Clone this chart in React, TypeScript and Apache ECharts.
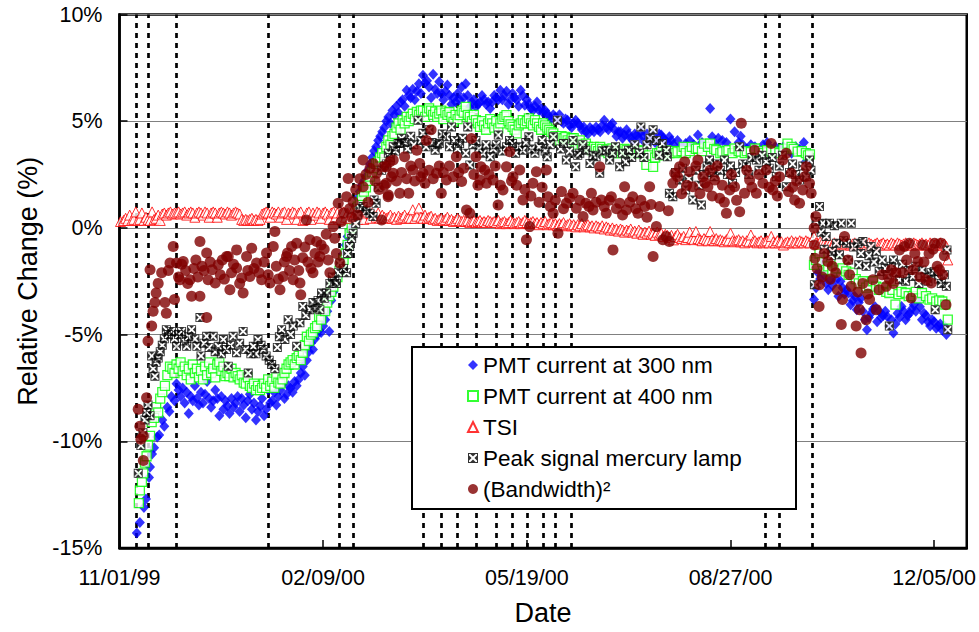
import React, { useEffect, useRef } from 'react';
import * as echarts from 'echarts';

const FONT = '"Liberation Sans", Arial, Helvetica, sans-serif';

// x axis: days since 11/01/99
const xTickDays = [0, 100, 200, 300, 400];
const xTickLabels = ['11/01/99', '02/09/00', '05/19/00', '08/27/00', '12/05/00'];
const eventDays = [8, 14, 28, 73, 108, 115, 149, 158, 166, 175, 185, 193, 200, 208, 214, 222, 317, 324, 340];
const seriesNames = ['PMT current at 300 nm', 'PMT current at 400 nm', 'TSI', 'Peak signal mercury lamp', '(Bandwidth)²'];

const pmt300 = [
[8.5,-14.3],[10,-13.8],[12,-13.1],[13,-12.7],[14.5,-11.7],[15,-11.2],[16,-10.6],[17,-10.3],[18.5,-9.8],[19.5,-9.7],[21,-9.0],[22,-9.3],[23.5,-8.4],[24.5,-8.6],[25.5,-7.9],[27,-8.1],[28,-7.3],[29,-7.6],[30,-7.9],[31,-7.5],[32,-8.2],[33,-7.7],[34,-8.7],[35,-7.9],[36,-8.1],[37,-7.4],[38,-8.0],[39,-8.3],[40,-7.7],[41,-8.2],[42,-7.8],[43,-7.2],[44,-8.0],[45,-8.4],[46,-8.1],[47,-7.6],[48,-8.0],[49,-8.8],[50,-7.9],[51,-8.5],[52,-8.1],[53,-8.35],[54,-8.7],[55,-8.0],[56,-8.4],[57,-8.2],[58,-7.9],[59,-8.6],[60,-8.0],[61,-8.3],[62,-8.9],[63,-8.1],[64,-7.8],[65,-8.5],[66,-8.2],[67,-9.0],[68,-8.6],[69,-8.35],[70,-8.0],[71,-8.8],[72,-8.5],[73,-7.6],[74,-8.2],[75,-8.1],[76,-7.7],[77,-8.3],[78,-7.9],[79,-7.6],[80,-7.3],[81,-8.0],[82,-7.8],[83,-7.4],[84,-7.5],[85,-7.7],[86,-7.2],[87,-7.4],[88,-7.1],[89,-6.8],[90,-6.5],[91,-6.9],[92,-6.2],[93,-5.8],[94,-5.4],[95,-5.7],[96,-5.2],[97,-5.0],[98,-4.8],[99,-4.9],[100,-4.6],[101,-4.3],[102,-3.9],[103,-4.85],[104,-3.4],[105,-3.0],[106,-2.6],[107,-2.3],[108,-2.0],[109,-1.6],[110,-1.2],[111,-0.8],[112,-0.4],[113,-0.1],[114,0.3],[115,0.7],[116,1.0],[117,1.4],[118,1.7],[119,2.0],[120,2.2],[121,2.4],[122,2.7],[123,3.0],[124,3.3],[125,3.6],[126,3.8],[127,4.1],[128,4.3],[129,4.5],[130,4.7],[131,5.0],[132,5.2],[133,4.9],[134,5.5],[135,5.3],[136,5.7],[137,5.4],[138,5.9],[139,6.0],[140,5.7],[141,6.45],[142,6.2],[143,6.1],[144,6.5],[145,6.0],[146,6.4],[147,6.76],[148,6.3],[149,7.15],[150,6.8],[151,6.9],[152,6.6],[153,6.1],[154,7.2],[155,6.5],[156,6.3],[157,6.85],[158,6.3],[159,6.0],[160,6.4],[161,6.7],[162,6.2],[163,5.8],[164,6.1],[165,5.9],[166,6.3],[167,6.0],[168,6.6],[169,6.1],[170,6.76],[171,6.2],[172,5.67],[173,5.9],[174,6.0],[175,5.67],[176,5.8],[177,5.9],[178,6.2],[179,6.0],[180,5.8],[181,5.9],[182,5.6],[183,5.9],[184,6.2],[185,6.1],[186,6.0],[187,6.45],[188,6.0],[189,6.2],[190,6.4],[191,5.8],[192,6.0],[193,6.3],[194,6.1],[195,6.0],[196,5.7],[197,6.45],[198,6.2],[199,5.75],[200,6.0],[201,5.8],[202,5.6],[203,5.5],[204,5.7],[205,5.9],[206,5.5],[207,5.6],[208,5.4],[209,5.5],[210,5.36],[211,5.2],[212,5.1],[213,5.3],[214,5.2],[215,5.1],[216,5.3],[217,5.0],[218,4.9],[219,5.1],[220,5.05],[221,4.8],[222,4.7],[223,4.9],[224,5.05],[225,4.9],[226,4.8],[227,4.6],[228,4.73],[229,4.5],[230,4.4],[231,4.7],[232,4.6],[233,4.5],[234,4.73],[235,4.6],[236,4.5],[237,4.8],[238,5.05],[239,4.7],[240,4.6],[241,4.8],[242,4.9],[243,4.6],[244,4.3],[245,4.5],[246,4.5],[247,4.2],[248,4.35],[249,4.6],[250,4.4],[251,4.2],[252,4.1],[253,4.4],[254,4.35],[255,4.2],[256,4.5],[257,4.3],[258,4.0],[259,4.4],[260,4.2],[261,4.1],[262,4.35],[263,4.0],[264,4.1],[265,4.4],[266,4.35],[267,4.2],[268,4.1],[269,4.0],[270,4.27],[271,4.1],[272,3.9],[274,4.1],[276,3.8],[278,3.95],[280,4.1],[282,3.9],[284,4.35],[286,4.0],[288,3.8],[290,5.6],[291,4.27],[293,3.9],[294,4.2],[296,4.1],[298,4.0],[300,5.1],[302,4.5],[304,4.0],[305,4.3],[306,3.9],[308,3.7],[310,3.9],[312,3.8],[314,3.6],[316,3.9],[318,4.0],[320,3.7],[322,3.8],[324,3.6],[326,3.8],[328,3.7],[330,3.5],[332,3.8],[334,3.7],[336,4.0],[337,3.1],[338,3.5],
[341,-3.36],[342,-2.8],[343,-2.1],[344,-2.4],[345,-1.5],[346,-2.2],[347,-2.6],[348,-2.9],[349,-2.43],[350,-2.7],[351,-2.0],[352,-2.43],[353,-3.2],[354,-2.5],[355,-2.8],[356,-3.1],[357,-2.9],[358,-3.05],[359,-3.6],[360,-3.4],[361,-3.2],[362,-3.83],[363,-3.5],[364,-3.3],[365,-3.9],[366,-4.3],[367,-4.77],[368,-4.2],[369,-4.0],[370,-3.8],[371,-3.7],[372,-4.4],[373,-3.9],[374,-4.2],[375,-4.1],[376,-3.9],[377,-4.15],[378,-4.6],[379,-4.3],[380,-4.92],[381,-4.5],[382,-4.0],[383,-4.2],[384,-3.68],[385,-3.9],[386,-4.3],[387,-4.1],[388,-4.0],[389,-3.8],[390,-3.6],[391,-3.9],[392,-3.36],[393,-3.7],[394,-4.3],[395,-4.0],[396,-4.1],[397,-4.4],[398,-4.6],[399,-4.3],[400,-4.4],[401,-4.7],[402,-4.6],[403,-4.5],[404,-4.8],[405,-4.6],[406,-5.0]
];

const pmt400 = [
[9.5,-12.9],[10,-12.3],[11,-11.9],[11.7,-11.5],[12.5,-11.0],[13.3,-10.7],[14,-10.2],[15,-9.75],[15.8,-9.1],[17,-8.9],[18,-8.4],[19,-8.65],[20,-8.0],[21,-7.7],[22.3,-7.4],[23.5,-6.9],[24.8,-6.5],[26,-6.6],[27,-6.8],[28,-6.4],[29,-6.6],[30,-6.3],[31,-6.7],[32,-6.5],[33,-6.9],[34,-6.6],[35,-7.1],[36,-6.4],[37,-6.8],[38,-6.6],[39,-7.0],[40,-6.7],[41,-7.1],[42,-6.5],[43,-6.9],[44,-6.3],[45,-6.8],[46,-6.6],[47,-7.0],[48,-6.4],[49,-6.3],[50,-6.7],[51,-6.5],[52,-6.95],[53,-6.8],[54,-6.95],[55,-6.6],[56,-7.0],[57,-6.8],[58,-6.95],[59,-7.1],[60,-6.9],[61,-7.25],[62,-7.3],[63,-7.0],[64,-7.4],[65,-7.5],[66,-7.3],[67,-7.6],[68,-7.4],[69,-7.6],[70,-7.5],[71,-7.3],[72,-7.5],[73,-7.1],[74,-7.4],[75,-7.2],[76,-7.5],[77,-7.0],[78,-7.25],[79,-7.3],[80,-7.1],[81,-6.8],[82,-6.6],[83,-6.4],[84,-6.3],[85,-6.2],[86,-6.4],[87,-6.1],[88,-6.0],[89,-6.2],[90,-5.85],[91,-5.5],[92,-5.1],[93,-5.3],[94,-5.0],[95,-4.9],[96,-4.7],[97,-4.6],[98,-4.15],[99,-4.3],[100,-3.8],[101,-3.9],[102,-3.5],[103,-3.2],[104,-3.0],[105,-2.75],[106,-2.5],[107,-2.3],[108,-2.0],[109,-1.65],[110,-1.5],[111,-1.2],[112,-0.8],[113,-0.25],[114,0.0],[115,0.4],[116,0.7],[117,1.0],[118,1.2],[119,1.5],[120,1.7],[121,1.9],[122,2.2],[123,2.4],[124,2.6],[125,2.8],[126,3.0],[127,3.1],[128,3.3],[129,3.5],[130,3.3],[131,3.8],[132,4.1],[133,3.9],[134,4.3],[135,4.4],[136,4.7],[137,4.9],[138,4.6],[139,5.05],[140,4.9],[141,5.2],[142,5.0],[143,5.2],[144,5.35],[145,5.1],[146,5.43],[147,5.3],[148,5.5],[149,5.5],[150,5.2],[151,5.45],[152,5.6],[153,5.5],[154,5.3],[155,5.45],[156,5.2],[157,5.36],[158,5.5],[159,5.1],[160,5.4],[161,5.3],[162,5.43],[163,5.2],[164,4.97],[165,5.3],[166,5.1],[167,5.28],[168,5.5],[169,5.4],[170,5.67],[171,5.3],[172,5.2],[173,5.0],[174,5.3],[175,5.05],[176,4.9],[177,4.73],[178,5.0],[179,4.8],[180,4.6],[181,4.9],[182,5.1],[183,4.9],[184,4.7],[185,5.0],[186,4.66],[187,4.9],[188,5.1],[189,5.2],[190,5.28],[191,5.0],[192,4.85],[193,4.73],[194,4.6],[195,4.43],[196,4.8],[197,4.9],[198,5.05],[199,4.9],[200,5.0],[201,5.13],[202,4.9],[203,4.8],[204,5.05],[205,4.9],[206,4.73],[207,4.6],[208,4.9],[209,4.8],[210,4.7],[211,4.6],[212,4.5],[213,4.43],[214,4.3],[215,4.2],[216,4.1],[217,4.3],[218,4.2],[219,4.27],[220,4.1],[221,4.0],[222,4.2],[223,4.2],[224,4.0],[225,3.9],[226,4.1],[227,3.9],[228,3.8],[229,3.95],[230,3.8],[231,3.7],[232,3.64],[233,3.8],[234,3.7],[235,3.6],[236,3.8],[237,3.7],[238,3.6],[239,3.64],[240,3.5],[241,3.6],[242,3.72],[243,3.6],[244,3.5],[245,3.5],[246,3.6],[247,3.55],[248,3.7],[249,3.64],[250,3.5],[251,3.6],[252,3.57],[253,3.5],[254,3.6],[255,3.5],[256,3.64],[257,3.6],[258.7,2.95],[260,3.4],[262,2.86],[263,3.3],[264,3.5],[265,3.5],[266,3.6],[267,3.4],[268.5,3.64],[270,3.5],[271,3.6],[273,3.5],[274,3.57],[276,3.6],[277,3.8],[278,3.5],[280,3.6],[281,3.8],[283,3.7],[284,3.72],[286,3.6],[287,3.95],[289,3.8],[290,3.95],[292,3.7],[293,3.64],[295,3.5],[296,3.57],[298,3.6],[299,3.64],[301,3.5],[302,3.72],[304,3.6],[305,3.57],[307,3.5],[308,3.6],[310,3.55],[312,3.72],[314,3.6],[316,3.5],[318,3.64],[320,3.6],[322,3.57],[324,3.5],[326,3.7],[328,3.95],[330,3.8],[331,3.7],[333,3.57],[335,3.6],[337,3.5],[338,3.4],[339,3.45],
[341,-1.73],[342,-1.5],[343.7,-1.2],[345,-1.6],[347,-1.97],[348,-1.8],[350,-2.04],[352,-1.9],[353.5,-1.57],[355,-1.9],[356.8,-2.04],[358,-2.2],[360,-2.1],[361.5,-2.4],[363,-2.6],[365,-2.5],[366.6,-2.8],[368,-2.7],[370,-2.5],[371.5,-2.75],[373,-2.9],[375,-2.8],[376.5,-3.0],[378,-3.05],[379.5,-2.9],[381,-3.6],[382.5,-3.1],[384,-3.0],[386,-3.05],[387.5,-3.2],[389.5,-3.2],[391,-3.0],[392.5,-3.3],[394,-3.05],[396,-3.2],[397.7,-3.36],[399,-3.3],[401,-3.45],[402.5,-3.4],[404,-3.45],[405.5,-3.6],[406.7,-4.3]
];

const tsi = [
[0.5,0.3],[2,0.35],[3,0.45],[4,0.35],[5,0.6],[6,0.35],[7,0.4],[8,0.75],[9,0.35],[10,0.4],[11,0.7],[12,0.35],[13,0.5],[14,0.4],[15,0.35],[16,0.75],[17,0.4],[18,0.45],[19,0.6],[20,0.35],[21,0.65],[22,0.7],[23,0.6],[24,0.7],[25,0.75],[26,0.65],[27,0.7],[28,0.7],[29,0.75],[30,0.65],[31,0.7],[32,0.75],[33,0.6],[34,0.7],[35,0.75],[36,0.7],[37,0.5],[38,0.7],[39,0.75],[40,0.7],[41,0.6],[42,0.75],[43,0.7],[44,0.5],[45,0.7],[46,0.75],[47,0.7],[48,0.5],[49,0.7],[50,0.75],[51,0.7],[52,0.65],[53,0.75],[54,0.7],[55,0.6],[56,0.7],[57,0.75],[58,0.7],[59,0.65],[60,0.4],[61,0.35],[62,0.4],[63,0.35],[64,0.4],[65,0.45],[66,0.35],[67,0.4],[68,0.35],[69,0.4],[70,0.65],[71,0.7],[72,0.75],[73,0.7],[74,0.5],[75,0.75],[76,0.7],[77,0.65],[78,0.75],[79,0.5],[80,0.7],[81,0.75],[82,0.4],[83,0.7],[84,0.65],[85,0.75],[86,0.7],[87,0.4],[88,0.7],[89,0.75],[90,0.35],[91,0.4],[92,0.7],[93,0.75],[94,0.4],[95,0.7],[96,0.6],[97,0.75],[98,0.7],[99,0.45],[100,0.7],[101,0.75],[102,0.65],[103,0.4],[104,0.7],[105,0.75],[106,0.5],[107,0.7],[108,0.4],[109,0.7],[110,0.75],[111,0.5],[112,0.7],[113,0.45],[114,0.75],[115,0.6],[116,0.7],[117,0.4],[118,0.7],[119,0.65],[120,0.4],[121,0.7],[122,0.75],[123,0.45],[124,0.7],[125,0.6],[126,0.5],[127,0.7],[128,0.45],[129,0.6],[130,0.5],[131,0.45],[132,0.5],[133,0.6],[134,0.45],[135,0.5],[136,0.4],[137,0.55],[138,0.45],[139,0.5],[140,0.6],[141,0.45],[142,0.5],[143,0.45],[144,0.85],[145,0.45],[146,0.55],[147,0.93],[148,0.5],[149,0.45],
[150,0.6],[151,0.45],[152,0.5],[153,0.55],[154,0.4],[155,0.45],[156,0.35],[157,0.4],[158,0.45],[159,0.35],[160,0.4],[161,0.5],[162,0.35],[163,0.4],[164,0.3],[165,0.35],[166,0.45],[167,0.35],[168,0.3],[169,0.35],[170,0.3],[171,0.35],[172,0.25],[173,0.3],[174,0.35],[175,0.25],[176,0.3],[177,0.35],[178,0.25],[179,0.3],[180,0.25],[181,0.35],[182,0.3],[183,0.25],[184,0.3],[185,0.25],[186,0.35],[187,0.2],[188,0.25],[189,0.3],[190,0.2],[191,0.25],[192,0.35],[193,0.25],[194,0.2],[195,0.25],[196,0.3],[197,0.2],[198,0.25],[199,0.35],[200,0.25],[201,0.2],[202,0.25],[203,0.3],[204,0.2],[205,0.25],[206,0.15],[207,0.25],[208,0.2],[209,0.3],[210,0.15],[211,0.2],[212,0.25],[213,0.15],[214,0.2],[215,0.1],[216,0.2],[217,0.15],[218,0.25],[219,0.1],[220,0.15],[221,0.2],[222,0.1],[223,0.15],[224,0.05],[225,0.15],[226,0.1],[227,0.2],[228,0.05],[229,0.1],[230,0.15],[231,0.05],[232,0.1],[233,0.0],[234,0.1],[235,0.05],[236,0.0],[237,0.1],[238,-0.05],[239,0.05],[240,0.0],[241,-0.1],[242,0.0],[243,-0.1],[244,-0.05],[245,-0.15],[246,-0.05],[247,-0.1],[248,-0.2],[249,-0.1],[250,-0.15],[251,-0.05],[252,-0.2],[253,-0.15],[254,-0.25],[255,-0.1],[256,-0.2],[257,-0.3],[258,-0.2],[259,-0.25],[260,-0.15],[261,-0.3],[262,-0.25],[263,-0.35],[264,-0.2],[265,-0.3],[266,-0.25],[267,-0.4],[268,-0.3],[269,-0.35],[270,-0.45],[271,-0.35],[272,-0.56],[273,-0.4],[274,-0.3],[275,-0.45],[276,-0.5],[277,-0.4],[278,-0.55],[279,-0.45],[280,-0.2],[281,-0.5],[282,-0.55],[283,-0.17],[284,-0.5],[285,-0.55],[286,-0.6],[287,-0.5],[288,-0.55],[289,-0.6],[290,-0.17],[291,-0.55],[292,-0.6],[293,-0.5],[294,-0.6],[295,-0.55],[296,-0.6],[297,-0.65],[298,-0.55],[299,-0.6],[300,-0.25],[301,-0.6],[302,-0.65],[303,-0.6],[304,-0.55],[305,-0.65],[306,-0.6],[307,-0.7],[308,-0.6],[309,-0.65],[310,-0.33],[311,-0.65],[312,-0.6],[313,-0.7],[314,-0.65],[315,-0.6],[316,-0.7],[317,-0.65],[318,-0.6],[319,-0.7],[320,-0.4],[321,-0.65],[322,-0.7],[323,-0.6],[324,-0.7],[325,-0.65],[326,-0.8],[327,-0.7],[328,-0.65],[329,-0.7],[330,-0.6],[331,-0.7],[332,-0.65],[333,-0.7],[334,-0.6],[335,-0.65],[336,-0.7],[337,-0.6],[338,-0.65],[339,-0.7],
[341,-0.4],[342,-0.7],[343,-0.75],[344,-0.65],[345,-0.7],[346,-0.75],[347,-0.8],[348,-0.7],[349,-0.75],[350,-0.8],[351,-0.7],[352,-0.75],[353,-0.8],[354,-0.75],[355,-0.7],[356,-0.8],[357,-0.75],[358,-0.7],[359,-0.8],[360,-0.75],[361,-0.7],[362,-0.8],[363,-0.75],[364,-0.8],[365,-0.7],[366,-0.75],[367,-0.8],[368,-0.7],[369,-0.75],[370,-0.8],[371,-0.75],[372,-0.7],[373,-0.8],[374,-0.75],[375,-0.7],[376,-0.8],[377,-0.75],[378,-0.8],[379,-0.7],[380,-0.75],[381,-0.8],[382,-0.7],[383,-0.75],[384,-0.8],[385,-0.75],[386,-0.7],[387,-0.8],[388,-0.75],[389,-0.8],[390,-0.7],[391,-0.75],[392,-0.8],[393,-0.75],[394,-0.7],[395,-0.8],[396,-0.75],[397,-0.8],[398,-0.7],[399,-0.75],[400,-0.8],[401,-0.75],[402,-0.8],[403,-0.7],[404,-0.8],[405,-0.75],[406,-0.87],[406.7,-1.5]
];

const peak = [
[9.2,-11.5],[10.5,-10.2],[11.5,-9.6],[12.5,-9.0],[13.3,-8.65],[14,-8.3],[15,-8.8],[15.8,-6.0],[16.5,-6.6],[17.4,-6.95],[18,-6.3],[19,-6.1],[20,-5.8],[21,-5.5],[22,-5.2],[23,-4.77],[24,-5.0],[25.6,-4.85],[27,-5.2],[28,-5.55],[29,-5.0],[30.5,-4.85],[32,-5.3],[33,-5.55],[34,-5.1],[35.4,-4.77],[37,-5.2],[38,-5.55],[39.5,-4.2],[40,-6.0],[41.5,-5.4],[42.8,-5.08],[44,-5.6],[46,-5.08],[47,-5.8],[48.5,-5.55],[50,-5.9],[51,-5.23],[52.5,-5.7],[53.4,-6.48],[54.5,-5.5],[55.8,-5.08],[57.5,-5.85],[59,-5.4],[60.7,-4.85],[62,-5.7],[63.2,-6.8],[64.5,-5.9],[65.7,-5.55],[67,-5.9],[68,-5.23],[69.5,-5.5],[70.6,-5.7],[72,-6.0],[73.5,-6.2],[74.7,-6.4],[76.3,-6.6],[77.5,-5.6],[78.5,-5.1],[79.6,-4.77],[81.2,-5.23],[82.8,-4.3],[84,-5.0],[85.3,-4.6],[87,-5.55],[88.6,-4.45],[90,-3.68],[91.5,-4.1],[93.5,-3.83],[95,-3.5],[96,-3.75],[97.5,-3.4],[98.4,-3.83],[99.2,-3.05],[100.5,-3.3],[101.7,-3.05],[103.3,-2.6],[104.5,-2.3],[105.7,-2.5],[106.5,-2.6],[107.4,-2.1],[108.2,-1.65],[110,-1.9],[111.5,-2.1],[112,-1.2],[113,-0.87],[114,-0.5],[114.7,-0.25],[116,0.2],[117,0.6],[118,0.92],[119.6,1.0],[121,0.8],[123,0.69],[124.5,0.53],[125,1.31],[126,1.15],[127,1.9],[128.7,2.7],[130,2.9],[131,3.0],[132,3.5],[133,3.3],[134.4,3.8],[135.5,3.6],[136.8,3.95],[137.6,3.95],[138.5,4.2],[140,4.0],[141.5,3.7],[143,4.3],[144.5,3.9],[146.6,5.05],[148,4.1],[149,4.43],[150.5,3.8],[152,4.6],[153.5,4.0],[155,3.64],[156,3.9],[157,3.95],[158.5,4.4],[160.5,4.27],[162,3.8],[163,4.73],[164.5,4.1],[166,3.7],[167,3.95],[168.5,4.2],[170,3.5],[171,4.73],[172,2.95],[173.5,3.9],[175,4.1],[176.5,3.7],[178.5,3.5],[180,3.9],[182,3.33],[183.5,3.7],[185,3.9],[186,4.35],[188,3.6],[190,3.8],[191.5,4.1],[193,3.95],[194.5,3.5],[196,3.8],[198,3.64],[199.5,4.0],[201,4.27],[202.5,3.7],[204,3.5],[206,3.8],[207.5,4.1],[209,3.6],[210,3.33],[211.5,3.9],[213,4.27],[215,5.05],[216.5,3.7],[218,3.95],[219.4,3.18],[221,3.6],[222.7,4.1],[224,2.86],[225,3.4],[226,3.5],[227.5,3.9],[229,3.64],[231,3.02],[232.5,3.4],[234,3.33],[235.8,2.56],[237,3.6],[239,3.64],[240.7,3.18],[242,3.5],[243.5,3.8],[245.6,2.86],[247,3.5],[248.5,3.1],[250,3.64],[251.5,3.3],[253,3.9],[255.4,3.5],[256,4.73],[257.5,3.3],[259,3.9],[260.5,4.2],[262,4.6],[263.6,4.1],[265,3.41],[266.5,3.95],[268.5,3.64],[269,3.33],[270,1.62],[271.7,1.46],[273,2.6],[275,2.24],[276.5,2.8],[278,1.78],[279.5,2.3],[281.5,1.31],[283,2.7],[284.5,2.0],[285.7,1.07],[287,2.5],[288.5,2.9],[289.7,3.18],[291,2.6],[292,2.4],[293.5,3.0],[295,2.7],[297,3.18],[298.5,2.5],[300,2.9],[301,2.09],[302.5,2.6],[304.5,3.8],[306,3.0],[307.8,2.86],[309,2.5],[310.5,3.3],[312.7,3.18],[314,2.7],[315.5,3.4],[317.6,3.1],[319,2.8],[320.5,3.3],[322.5,2.4],[324,2.9],[325.5,3.4],[327.4,1.93],[329,2.6],[330.5,3.0],[332,2.5],[333.9,2.24],[335.5,2.9],[337.2,2.4],[338.8,3.18],[339.5,2.7],
[341.2,-2.66],[342,0.3],[343.7,1.0],[344.5,-0.2],[345.3,0.22],[346,-1.0],[347,-0.4],[348.6,0.22],[349.5,-1.3],[350,-1.1],[351,0.1],[352,-0.72],[353.5,-1.26],[354.4,0.22],[355.5,-0.6],[357,-0.72],[358,-1.5],[359.3,0.22],[360.5,-0.9],[362.5,-0.72],[363,-1.73],[364,-1.2],[365,-0.64],[366.6,-1.8],[368,-1.3],[369,-0.87],[370.5,-1.6],[371.6,-1.1],[373,-2.04],[374.5,-1.5],[376,-1.9],[377,-2.2],[378,-4.6],[379,-1.8],[380,-1.5],[381.5,-2.1],[383,-2.43],[384.5,-1.7],[386,-2.5],[387.5,-2.0],[389.5,-2.28],[391,-1.8],[392.5,-2.6],[394,-1.97],[395.5,-2.3],[397,-2.5],[398.5,-2.1],[400,-2.04],[400.5,-3.83],[402,-2.4],[403.5,-2.6],[405,-2.2],[406,-2.74],[406.3,-1.03],[406.7,-4.77]
];

const bandwidth = [
[9.2,-8.5],[10,-9.3],[10.5,-9.9],[11.7,-10.9],[11.7,-9.75],[13.3,-7.96],[14,-5.3],[15,-1.96],[15.8,-4.6],[16.5,-3.9],[17.4,-3.5],[18,-3.05],[19,-2.6],[20.7,-2.1],[22.3,-3.5],[23,-4.0],[24,-2.0],[24.8,-1.65],[26.4,-0.87],[27,-3.36],[28,-1.65],[29,-2.3],[29.7,-2.43],[30.5,-1.7],[31.3,-1.57],[32.5,-2.0],[33.5,-2.6],[34.6,-2.43],[35.4,-3.2],[36.5,-1.9],[37.5,-1.5],[38.5,-2.3],[39.5,-0.64],[39.5,-3.2],[40.5,-1.8],[41.5,-2.0],[42.8,-1.18],[42.8,-4.2],[43.5,-2.43],[44.5,-1.6],[45.5,-1.96],[47,-2.58],[48.5,-1.73],[49.5,-2.2],[50.5,-1.5],[51.5,-2.4],[52.6,-1.34],[53.4,-1.34],[54.2,-2.9],[55,-2.1],[56,-1.7],[57.5,-1.88],[57.5,-1.03],[59,-2.6],[60,-2.35],[60.7,-3.05],[62.4,-1.34],[63,-2.0],[64,-2.28],[64.9,-0.95],[66,-1.9],[67.3,-1.65],[68.5,-2.1],[69.8,-2.43],[71,-1.6],[72.2,-1.18],[73,-2.2],[73.9,-2.58],[75.5,-0.87],[76.3,-0.17],[77,-1.8],[78,-2.4],[78.8,-2.9],[80.4,-2.28],[81,-1.6],[82,-1.34],[82.5,-1.18],[83.5,-2.0],[84.5,-0.87],[85.3,-2.43],[86,-1.5],[87,-0.72],[88,-2.0],[88.6,-2.58],[89,-3.13],[90,-1.4],[91,-0.9],[91.8,0.37],[92.5,-1.6],[93.5,-0.56],[94,-1.9],[95,-2.1],[96,-1.2],[96.8,-0.64],[97.5,-1.6],[98.4,-1.34],[99,-0.8],[100.5,-1.0],[101.5,-0.3],[102.5,-1.5],[103.3,-2.1],[104.9,0.06],[105.7,-0.48],[106.5,-1.2],[107.4,1.15],[108.2,-1.65],[109,0.3],[110,0.7],[111.5,1.46],[112.3,2.32],[113,0.9],[114,0.5],[114.7,1.23],[116,1.8],[117,0.6],[118,2.3],[119.6,3.18],[119.6,1.93],[121,2.5],[122,1.2],[123,2.8],[124.5,3.02],[125.5,2.2],[126.2,2.56],[127.5,1.8],[128.7,0.37],[129.5,2.86],[130,2.0],[131,2.86],[131,2.09],[131.9,1.46],[132,1.54],[132.7,3.1],[133.5,2.4],[134.4,2.56],[134.4,3.18],[136,2.2],[137.6,1.62],[138.5,2.6],[140,3.33],[141,2.3],[142,1.62],[143,2.9],[144,2.71],[145,2.2],[146,3.64],[147.4,3.02],[148,2.4],[149,2.56],[150,2.09],[150.7,4.1],[152,2.7],[153,4.6],[154,2.3],[155.6,2.56],[157,2.9],[158,1.62],[159,2.6],[160.5,2.24],[162,2.9],[163.8,2.4],[165.4,3.33],[166.5,2.6],[168,2.17],[169,2.8],[170.4,0.84],[172,0.69],[172.8,4.19],[174,2.5],[175,3.33],[176,2.0],[177,2.24],[177.5,2.86],[179.3,2.71],[180.2,2.09],[181.5,2.5],[183.4,2.24],[184.5,2.9],[185.9,1.07],[187,2.0],[188.3,1.78],[190,2.86],[191.6,3.57],[192.5,2.2],[193.2,2.4],[195,2.0],[196.5,2.71],[198.1,1.31],[199,1.8],[199.8,-0.56],[201.4,0.06],[202,1.5],[203,2.09],[204.7,2.63],[206,1.2],[207.5,1.9],[209.6,2.71],[210.4,1.46],[211.5,1.0],[212.9,0.69],[214,1.3],[215.3,-0.25],[217,1.7],[218,0.9],[219.4,1.15],[221,1.4],[222.7,1.62],[224.3,0.92],[226,1.3],[227.6,0.53],[229,1.15],[230.5,1.0],[231.7,1.62],[232.5,0.84],[234,1.2],[235.8,2.86],[236.6,1.31],[238,1.0],[239,0.69],[240.5,1.3],[241.5,1.46],[242.3,-1.03],[244,0.9],[245.6,1.15],[247,0.6],[248,1.93],[248.9,0.84],[250.5,1.2],[252,1.46],[253.5,0.9],[254.6,0.69],[256,1.3],[257.9,1.0],[259,0.5],[260.3,1.93],[261,1.1],[262,-1.34],[263.6,0.06],[265.2,1.0],[266.8,-0.56],[268.5,-0.4],[269.5,0.8],[270,-0.64],[271.7,2.09],[272.6,2.56],[274,2.4],[275,2.86],[276,1.6],[277.5,3.1],[278.5,2.0],[279.9,2.63],[281.5,1.93],[283,2.9],[284,3.18],[285,1.6],[286.5,2.4],[287.5,2.1],[288.9,1.93],[290,2.7],[291,1.5],[292.3,2.24],[293.5,2.9],[294.7,1.39],[296,2.0],[297,1.2],[298,0.69],[299.6,1.78],[300.5,2.5],[302,1.93],[303,1.3],[304.5,0.76],[305.3,4.9],[306.9,1.62],[308,2.7],[309.4,2.24],[310.5,1.9],[311.8,3.64],[312.7,1.62],[314,2.5],[315.9,2.09],[317.6,2.71],[319,1.9],[320,3.95],[320.8,1.78],[322,2.2],[323,1.5],[324.1,2.4],[325.7,3.18],[327.4,3.5],[328.5,1.7],[329.8,2.56],[330.5,1.9],[331.5,1.31],[332.5,2.2],[333.9,1.15],[335.5,1.78],[336.5,2.4],[337.2,2.86],[338.8,2.09],[339.6,1.62],
[341.1,-0.01],[341.2,-0.8],[341.4,-1.42],[341.9,0.53],[342.5,-1.9],[343.5,-3.68],[343.7,-2.66],[345,-2.3],[346,-1.2],[347.8,-1.57],[349,-2.4],[350,-1.8],[351.7,-2.1],[352.5,-2.9],[354.4,-4.53],[355,-3.36],[356,-0.4],[357.6,-1.5],[358.5,-2.2],[359.3,-2.74],[361.7,-4.6],[362.5,-3.0],[363.3,-3.83],[364.1,-5.86],[365,-2.6],[366.6,-4.3],[367.5,-3.1],[368.3,-3.36],[369.9,-2.43],[371.6,-3.83],[373,-2.9],[374.5,-2.2],[376.5,-2.74],[378,-2.4],[379,-1.96],[380,-2.6],[381.3,-2.1],[383,-1.03],[384.6,-2.1],[385.4,-0.87],[386.5,-1.5],[387.8,-0.72],[388.7,-3.29],[389.5,-1.96],[390.5,-1.2],[392,-1.57],[393,-2.3],[394.4,-0.8],[395,-1.6],[396,-2.43],[397.5,-1.2],[398.6,-2.58],[399.5,-1.0],[400.2,-0.72],[401.5,-1.8],[402.6,-1.96],[403.4,-0.72],[404.2,-2.2],[405,-1.3],[405.8,-3.6]
];

const X_SQUARE = 'path://M0 0L10 0L10 10L0 10Z M1 1L1 9L9 9L9 1Z M2.4 1L7.6 1L5 3.6Z M9 2.4L9 7.6L6.4 5Z M7.6 9L2.4 9L5 6.4Z M1 7.6L1 2.4L3.6 5Z';

export default function App() {
  const ref = useRef<HTMLDivElement>(null);
  useEffect(() => {
    if (!ref.current) return;
    const chart = echarts.init(ref.current, null, { renderer: 'svg' });
    const axisText = { fontFamily: FONT, color: '#000', fontSize: 21.5 };
    chart.setOption({
      animation: false,
      backgroundColor: '#fff',
      textStyle: { fontFamily: FONT, color: '#000' },
      grid: {
        left: 119.5, top: 14.5, width: 848.5, height: 533.5,
        show: true, borderColor: '#000', borderWidth: 2.5, backgroundColor: 'transparent',
      },
      xAxis: {
        type: 'value', min: 0, max: 416, interval: 100,
        name: 'Date', nameLocation: 'middle', nameGap: 51,
        nameTextStyle: { fontFamily: FONT, color: '#000', fontSize: 27 },
        axisLine: { show: true, onZero: false, lineStyle: { color: '#000', width: 2.5 } },
        axisTick: { show: true, inside: true, length: 8, lineStyle: { color: '#000', width: 1.5 } },
        axisLabel: {
          ...axisText, margin: 19,
          formatter: (v: number) => {
            const i = xTickDays.indexOf(v);
            return i >= 0 ? xTickLabels[i] : '';
          },
        },
        splitLine: { show: false },
      },
      yAxis: {
        type: 'value', min: -15, max: 10, interval: 5,
        name: 'Relative Change (%)', nameLocation: 'middle', nameGap: 78,
        nameTextStyle: { fontFamily: FONT, color: '#000', fontSize: 27 },
        axisLine: { show: true, onZero: false, lineStyle: { color: '#000', width: 2.5 } },
        axisTick: { show: true, inside: true, length: 8, lineStyle: { color: '#000', width: 1.5 } },
        axisLabel: { ...axisText, margin: 17, formatter: '{value}%' },
        splitLine: { show: true, lineStyle: { color: '#808080', width: 1 } },
      },
      legend: {
        z: 10, left: 467, top: 353, orient: 'vertical', padding: 0,
        itemGap: 7, itemWidth: 10, itemHeight: 10, selectedMode: false,
        textStyle: { fontFamily: FONT, color: '#000', fontSize: 22.5, lineHeight: 24 },
        data: seriesNames,
      },
      graphic: [
        {
          type: 'rect', z: 5, silent: true,
          shape: { x: 412, y: 347, width: 384, height: 162 },
          style: { fill: '#fff', stroke: '#000', lineWidth: 2 },
        },
      ],
      series: [
        {
          name: seriesNames[0], type: 'scatter', data: pmt300,
          symbol: 'diamond', symbolSize: [10, 11],
          itemStyle: { color: '#0000FF' },
          markLine: {
            silent: true, z: 1, symbol: ['none', 'none'], animation: false,
            label: { show: false },
            lineStyle: { color: '#000', width: 2.7, type: [5, 5] },
            data: eventDays.map((d) => ({ xAxis: d })),
          },
        },
        {
          name: seriesNames[1], type: 'scatter', data: pmt400,
          symbol: 'rect', symbolSize: 9,
          itemStyle: { color: '#fff', borderColor: '#00FF00', borderWidth: 1.3 },
        },
        {
          name: seriesNames[2], type: 'scatter', data: tsi,
          symbol: 'triangle', symbolSize: 10,
          itemStyle: { color: '#fff', borderColor: '#FF0000', borderWidth: 1 },
        },
        {
          name: 'peakBackground', type: 'scatter', data: peak, silent: true,
          symbol: 'rect', symbolSize: 9, itemStyle: { color: '#fff' },
        },
        {
          name: seriesNames[3], type: 'scatter', data: peak,
          symbol: X_SQUARE, symbolSize: 9, itemStyle: { color: '#000' },
        },
        {
          name: seriesNames[4], type: 'scatter', data: bandwidth,
          symbol: 'circle', symbolSize: 11, itemStyle: { color: '#800000' },
        },
      ],
    });
    return () => chart.dispose();
  }, []);
  return <div ref={ref} style={{ position: 'fixed', left: 0, top: 0, width: 979, height: 632 }} />;
}
